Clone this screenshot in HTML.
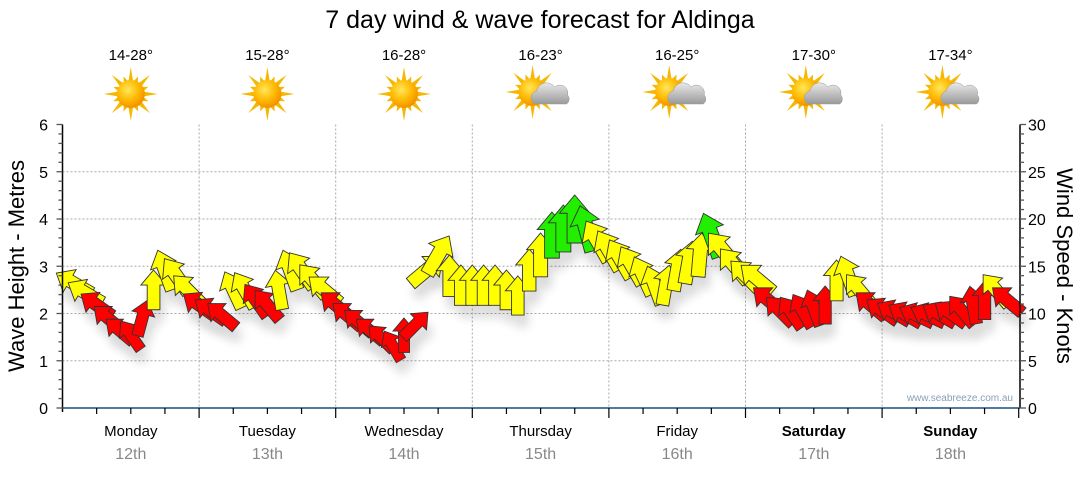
<!DOCTYPE html>
<html><head><meta charset="utf-8"><style>
body{margin:0;background:#fff;font-family:"Liberation Sans",sans-serif;}
svg text{font-family:"Liberation Sans",sans-serif;}
</style></head><body>
<svg id="chart" width="1080" height="475" viewBox="0 0 1080 475" xmlns="http://www.w3.org/2000/svg">
<defs>
<radialGradient id="sunG" cx="40%" cy="35%" r="65%"><stop offset="0" stop-color="#ffe75a"/><stop offset="0.6" stop-color="#ffb800"/><stop offset="1" stop-color="#f29000"/></radialGradient>
<linearGradient id="cloudG" x1="0" y1="0" x2="0" y2="1"><stop offset="0" stop-color="#e8e8e8"/><stop offset="1" stop-color="#9a9a9a"/></linearGradient>
<filter id="sh" x="-50%" y="-50%" width="200%" height="200%"><feGaussianBlur stdDeviation="5"/></filter>
</defs>
<text x="540" y="28" font-size="25" text-anchor="middle" fill="#000">7 day wind &amp; wave forecast for Aldinga</text>
<g id="grid"></g>
<g id="shadows" opacity="0.15"></g>
<g id="arrows"></g>
<g id="axes"></g>
<g id="weather"></g>
<text transform="translate(24,266) rotate(-90)" font-size="22" text-anchor="middle">Wave Height - Metres</text>
<text transform="translate(1057,266) rotate(90)" font-size="22" text-anchor="middle">Wind Speed - Knots</text>
<text x="1013" y="401" font-size="10" text-anchor="end" fill="#8a9fb5">www.seabreeze.com.au</text>
</svg>
<script>
const days=["Monday","Tuesday","Wednesday","Thursday","Friday","Saturday","Sunday"];
const dates=["12th","13th","14th","15th","16th","17th","18th"];
const temps=["14-28°","15-28°","16-28°","16-23°","16-25°","17-30°","17-34°"];
const icons=["sun","sun","sun","cloud","cloud","cloud","cloud"];
const waveTicks=[0,1,2,3,4,5,6];
const windTicks=[0,5,10,15,20,25,30];
// hours from Monday 00:00 (2-hourly)
const hours=[2,4,6,8,10,12,14,16,18,20,22,
24,26,28,30,32,34,36,38,40,42,44,46,
48,50,52,54,56,58,60,62,64,66,68,70,
72,74,76,78,80,82,84,86,88,90,92,94,
96,98,100,102,104,106,108,110,112,114,116,118,
120,122,124,126,128,130,132,134,136,138,140,142,
144,146,148,150,152,154,156,158,160,162,164,166];
const windKts=[13.2,12.2,10.9,9.5,8.2,7.7,9.5,12.5,14.6,14,12.5,
10.9,10.3,9.8,12.5,12.5,11.4,10.9,12.5,14.6,14.6,13.5,12.5,
10.9,9.8,9.1,8.2,7.4,6.6,7.7,8.8,14.6,16.2,14,13,
13,13,13,12.5,11.9,14.6,16.2,18.3,19,20,19,17.7,
16.7,15.8,15.1,14,13,13,14.6,15.4,16.2,18.3,16.7,15.1,
14,13.7,11.4,10.3,10.1,10.3,10.6,10.9,13.5,14,12.5,10.9,
10.3,10.1,9.9,9.8,9.8,9.9,10,10.3,10.9,11.4,12.5,11.4];
const windDir=[-60,-60,-55,-50,-50,-35,15,0,-20,-35,-45,
-55,-55,-50,-25,-30,-35,-40,-10,-20,-35,-40,-50,
-50,-50,-50,-50,-45,-30,0,45,50,30,0,0,
0,0,0,0,0,0,0,0,0,0,-15,-30,
-30,-30,-30,-25,-20,10,10,10,5,-20,-40,-40,
-45,-50,-50,-45,-35,-30,-20,0,0,-20,-40,-50,
-55,-60,-60,-65,-65,-60,-55,-40,-10,0,-40,-50];
const windCol=["y","y","r","r","r","r","r","y","y","y","y",
"r","r","r","y","y","r","r","y","y","y","y","y",
"r","r","r","r","r","r","r","r","y","y","y","y",
"y","y","y","y","y","y","y","g","g","g","g","y",
"y","y","y","y","y","y","y","y","y","g","y","y",
"y","y","r","r","r","r","r","r","y","y","y","r",
"r","r","r","r","r","r","r","r","r","r","y","r"];

const NS="http://www.w3.org/2000/svg";
const X0=62.5,DAYW=136.6,YB=408,YT=124.5;
const xAt=h=>X0+h/24*DAYW;
const yWave=m=>YB-(m/6)*(YB-YT);
const yWind=k=>YB-(k/30)*(YB-YT);
function mk(tag,attrs,parent){const e=document.createElementNS(NS,tag);for(const k in attrs)e.setAttribute(k,attrs[k]);parent.appendChild(e);return e;}
const grid=document.getElementById('grid'),axes=document.getElementById('axes');
waveTicks.forEach(v=>{if(v>0&&v<6){const l=mk('line',{x1:X0,x2:1020,y1:yWave(v),y2:yWave(v),stroke:'#aaa','stroke-dasharray':'2,2','stroke-width':1},grid);

}});
for(let d=1;d<7;d++){const l=mk('line',{x1:X0+d*DAYW,x2:X0+d*DAYW,y1:YT,y2:YB,stroke:'#aaa','stroke-dasharray':'2,2'},grid);

}
let a=mk('line',{x1:X0,x2:X0,y1:YT,y2:YB+4,stroke:'#000','stroke-width':1.5},axes);


a=mk('line',{x1:1020,x2:1020,y1:YT,y2:YB,stroke:'#000','stroke-width':1.5},axes);


a=mk('line',{x1:X0,x2:1020,y1:YB,y2:YB,stroke:'#1a4f7a','stroke-width':1.5},axes);


for(let i=0;i<=30;i++){const v=i/5,y=yWave(v);mk('line',{x1:X0-(i%5?4:6),x2:X0,y1:y,y2:y,stroke:'#555','stroke-width':1.3},axes);}
for(let i=0;i<=30;i++){const y=yWind(i);mk('line',{x1:1020,x2:1020+(i%5?4:6),y1:y,y2:y,stroke:'#555','stroke-width':1.3},axes);}
waveTicks.forEach(v=>{const t=mk('text',{x:48,y:yWave(v)+6,'font-size':16,'text-anchor':'end',fill:'#000'},axes);t.textContent=v;

});
windTicks.forEach(v=>{const t=mk('text',{x:1028,y:yWind(v)+6,'font-size':16,fill:'#000'},axes);t.textContent=v;

});
for(let h=6;h<=168;h+=6){const x=xAt(h);mk('line',{x1:x,x2:x,y1:YB,y2:YB+(h%24?6:10),stroke:'#000','stroke-width':1.2},axes);}
days.forEach((d,i)=>{const cx=X0+(i+0.5)*DAYW;
const t=mk('text',{x:cx,y:436,'font-size':15,'text-anchor':'middle','font-weight':i>=5?'bold':'normal'},axes);t.textContent=d;


const t2=mk('text',{x:cx,y:459,'font-size':16,'text-anchor':'middle',fill:'#888'},axes);t2.textContent=dates[i];

});
const W=document.getElementById('weather');
days.forEach((d,i)=>{const cx=X0+(i+0.5)*DAYW;
const t=mk('text',{x:cx,y:60,'font-size':15,'text-anchor':'middle'},W);t.textContent=temps[i];


const g=mk('g',{transform:`translate(${cx},${icons[i]==='sun'?94:92})`},W);


const sx=icons[i]==='sun'?0:-8;
for(let k=0;k<16;k++){const ang=k*22.5*Math.PI/180,L=k%2?19:27;
mk('polygon',{points:`${sx+Math.cos(ang)*L},${Math.sin(ang)*L} ${sx+Math.cos(ang+0.18)*13},${Math.sin(ang+0.18)*13} ${sx+Math.cos(ang-0.18)*13},${Math.sin(ang-0.18)*13}`,fill:'#f5b800'},g);}
mk('circle',{cx:sx,cy:0,r:14,fill:'url(#sunG)'},g);
if(icons[i]==='cloud'){mk('path',{d:'M-6,12 a7,7 0 0 1 2,-13 a10,10 0 0 1 18,-4 a8,8 0 0 1 13,8 a6,6 0 0 1 -1,9 Z',fill:'url(#cloudG)',stroke:'#999','stroke-width':0.5},g);}
});
function arrowPath(k){const L=26+1.1*k,h=L/2,hw=L*0.32,sw=L*0.16,hl=L*0.38;
return `M0,${-h} L${hw},${-h+hl} L${sw},${-h+hl} L${sw},${h} L${-sw},${h} L${-sw},${-h+hl} L${-hw},${-h+hl} Z`;}
const colMap={r:'#ff0000',y:'#ffff00',g:'#22ee00'};
const S=document.getElementById('shadows'),A=document.getElementById('arrows');
hours.forEach((h,i)=>{const x=xAt(h),y=yWind(windKts[i]),d=arrowPath(windKts[i]);
mk('path',{d:d,transform:`translate(${x+4},${y+12}) rotate(${windDir[i]})`,fill:'#000',filter:'url(#sh)'},S);
const p=mk('path',{d:d,transform:`translate(${x},${y}) rotate(${windDir[i]})`,fill:colMap[windCol[i]],stroke:'#333','stroke-width':0.9},A);

});
</script>
</body></html>
